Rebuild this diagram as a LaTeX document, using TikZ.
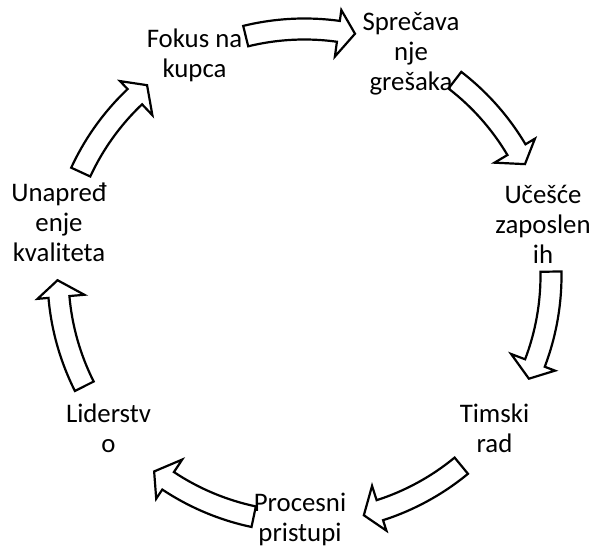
\documentclass[tikz,border=0pt]{standalone}
\usepackage{fontspec}
\setmainfont{Carlito}
\begin{document}
\begin{tikzpicture}[x=1pt,y=1pt,
  lbl/.style={align=center,inner sep=0pt,font=\fontsize{26.8}{30}\selectfont},
  blockarrow/.style={draw=black,fill=white,line width=2.2pt,line join=miter}]
\useasboundingbox (0,0) rectangle (591,548);
\coordinate (C) at (304.5,272.5);
\newcommand\cyclearrow[1]{%
 \pgfmathsetmacro\aA{#1+13.8}\pgfmathsetmacro\aB{#1-7.9}\pgfmathsetmacro\aC{#1-11.8}%
 \draw[blockarrow,shift={(C)}] (\aA:257) arc[start angle=\aA,end angle=\aB,radius=257]
   -- (\aB:268) -- (\aC:247) -- (\aB:221) -- (\aB:236)
   arc[start angle=\aB,end angle=\aA,radius=236] -- cycle;}
\cyclearrow{90}
\cyclearrow{38.6}
\cyclearrow{-12.9}
\cyclearrow{-64.3}
\cyclearrow{-115.7}
\cyclearrow{-167.1}
\cyclearrow{141.4}
\node[lbl] (fokus) at (194.5,493) {Fokus na\\kupca};
\node[lbl] (sprec) at (411,494) {Sprečava\\nje\\grešaka};
\node[lbl] (ucesce) at (543,324) {Učešće\\zaposlen\\ih};
\node[lbl] (timski) at (494.5,120) {Timski\\rad};
\node[lbl] (proc) at (300,29) {Procesni\\pristupi};
\node[lbl] (lider) at (108.5,120) {Liderstv\\o};
\node[lbl] (unapr) at (59,326) {Unapređ\\enje\\kvaliteta};
\end{tikzpicture}
\end{document}
